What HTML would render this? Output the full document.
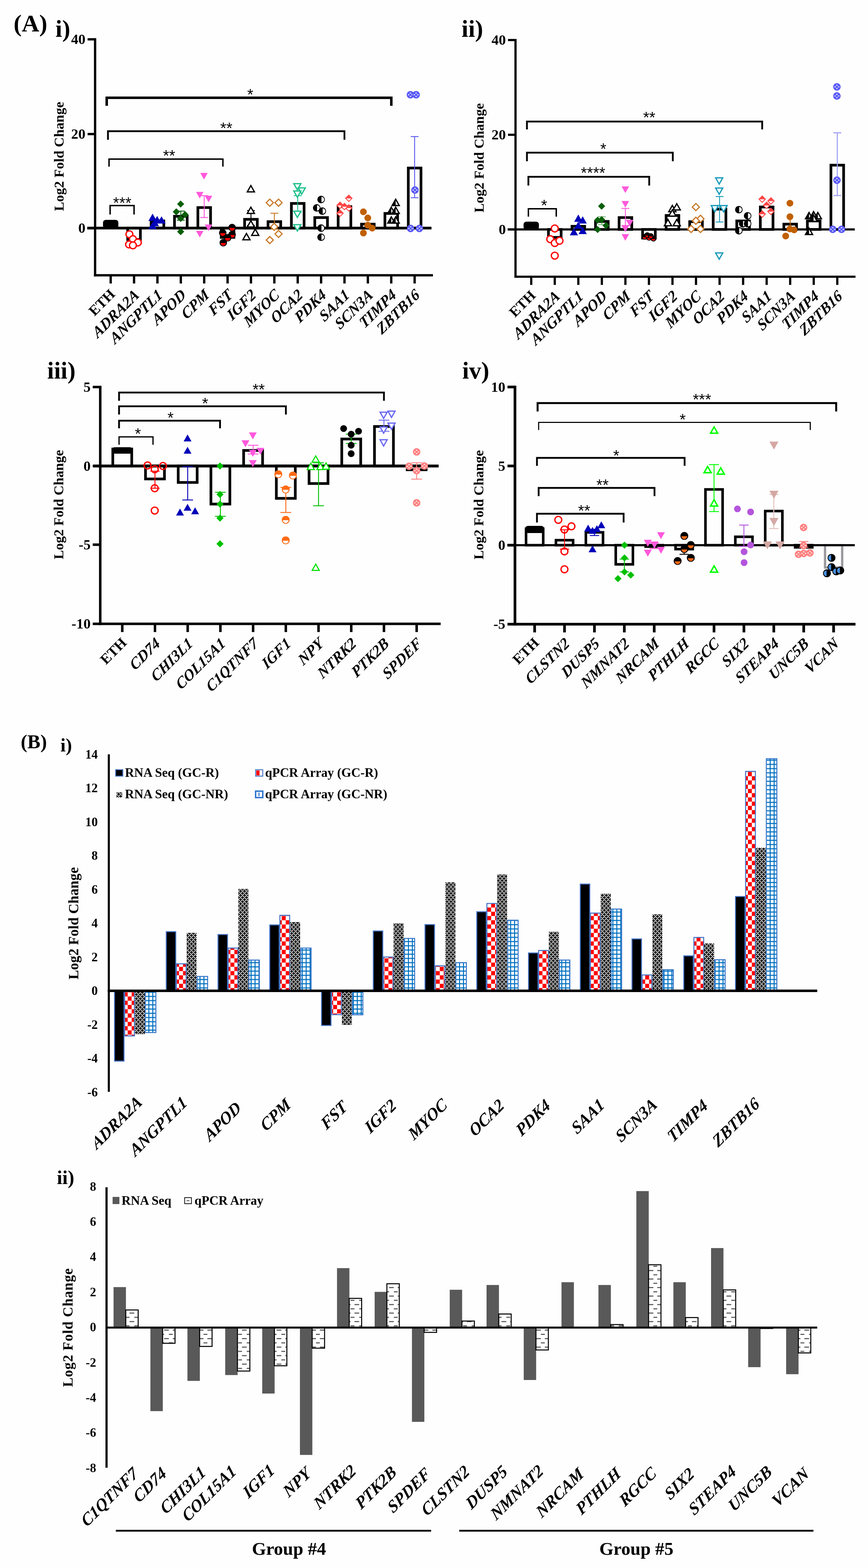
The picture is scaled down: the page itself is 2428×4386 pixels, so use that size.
<!DOCTYPE html>
<html lang="en">
<head>
<meta charset="utf-8">
<title>Figure: Log2 Fold Change validation (qPCR array vs RNA Seq)</title>
<style>
html,body{margin:0;padding:0;background:#fefefe;}
body{width:2428px;height:4386px;overflow:hidden;}
svg{display:block;}
text{font-family:"Liberation Serif","Times New Roman",serif;font-weight:bold;}
text.bi{font-style:italic;}
text.ar{font-family:"Liberation Sans",Arial,sans-serif;font-weight:normal;}
</style>
</head>
<body>
<svg width="2428" height="4386" viewBox="0 0 2428 4386" role="img" aria-label="Validation of RNA-Seq data by qPCR array: Log2 Fold Change bar charts">
<defs>
<pattern id="pc" width="22.1" height="23.7" patternUnits="userSpaceOnUse" x="14.7" y="2.66"><rect width="22.1" height="23.7" fill="#fff"/><rect x="0" y="0" width="11" height="11.8" fill="#f00"/><rect x="11" y="11.8" width="11" height="11.8" fill="#f00"/></pattern>
<pattern id="pd" width="11" height="11.8" patternUnits="userSpaceOnUse" x="3.3" y="2771.5"><rect width="11" height="11.8" fill="#000"/><rect x="0" y="0" width="2.8" height="3" fill="#fff"/><rect x="5.5" y="0" width="2.8" height="3" fill="#fff"/><rect x="2.8" y="3" width="2.8" height="3" fill="#fff"/><rect x="0" y="5.9" width="2.8" height="3" fill="#fff"/><rect x="5.5" y="5.9" width="2.8" height="3" fill="#fff"/><rect x="8.3" y="8.9" width="2.8" height="3" fill="#fff"/></pattern>
<pattern id="pg" width="11" height="11.8" patternUnits="userSpaceOnUse" x="8" y="0.9"><rect width="11" height="11.8" fill="#fff"/><rect x="0" y="0" width="11" height="2.9" fill="#0070c0"/><rect x="0" y="0" width="2.8" height="11.8" fill="#0070c0"/></pattern>
<pattern id="ph" width="24.2" height="23.8" patternUnits="userSpaceOnUse" x="-0.7" y="6.3"><rect width="24.2" height="23.8" fill="#fff"/><rect x="0" y="0" width="13.3" height="2.9" fill="#555"/><rect x="13.3" y="11.9" width="10.9" height="2.9" fill="#555"/></pattern>
<clipPath id="cl"><rect x="266" y="3000" width="2200" height="300"/></clipPath>
</defs>
<rect width="2428" height="4386" fill="#fefefe"/>
<text class="b" x="38" y="88" font-size="68">(A)</text>
<text class="b" x="155" y="103" font-size="68">i)</text>
<text class="b" transform="translate(177.5 437.5) rotate(-90)" font-size="38.8" text-anchor="middle">Log2 Fold Change</text>
<line x1="266" y1="106.8" x2="266" y2="773.2" stroke="#000" stroke-width="6.5"/>
<line x1="262.8" y1="770" x2="1211" y2="770" stroke="#000" stroke-width="6.5"/>
<line x1="244" y1="638" x2="1207" y2="638" stroke="#000" stroke-width="7.5"/>
<line x1="245" y1="110" x2="266" y2="110" stroke="#000" stroke-width="6.5"/>
<text class="b" x="239" y="123.4" font-size="40" text-anchor="end">40</text>
<line x1="245" y1="375" x2="266" y2="375" stroke="#000" stroke-width="6.5"/>
<text class="b" x="239" y="388.4" font-size="40" text-anchor="end">20</text>
<line x1="245" y1="638" x2="266" y2="638" stroke="#000" stroke-width="6.5"/>
<text class="b" x="239" y="651.4" font-size="40" text-anchor="end">0</text>
<line x1="309.6" y1="770" x2="309.6" y2="793" stroke="#000" stroke-width="6.5"/>
<line x1="375" y1="770" x2="375" y2="793" stroke="#000" stroke-width="6.5"/>
<line x1="440.4" y1="770" x2="440.4" y2="793" stroke="#000" stroke-width="6.5"/>
<line x1="505.8" y1="770" x2="505.8" y2="793" stroke="#000" stroke-width="6.5"/>
<line x1="571.2" y1="770" x2="571.2" y2="793" stroke="#000" stroke-width="6.5"/>
<line x1="636.6" y1="770" x2="636.6" y2="793" stroke="#000" stroke-width="6.5"/>
<line x1="702" y1="770" x2="702" y2="793" stroke="#000" stroke-width="6.5"/>
<line x1="767.4" y1="770" x2="767.4" y2="793" stroke="#000" stroke-width="6.5"/>
<line x1="832.8" y1="770" x2="832.8" y2="793" stroke="#000" stroke-width="6.5"/>
<line x1="898.2" y1="770" x2="898.2" y2="793" stroke="#000" stroke-width="6.5"/>
<line x1="963.6" y1="770" x2="963.6" y2="793" stroke="#000" stroke-width="6.5"/>
<line x1="1029" y1="770" x2="1029" y2="793" stroke="#000" stroke-width="6.5"/>
<line x1="1094.4" y1="770" x2="1094.4" y2="793" stroke="#000" stroke-width="6.5"/>
<line x1="1159.8" y1="770" x2="1159.8" y2="793" stroke="#000" stroke-width="6.5"/>
<text class="b" transform="translate(324.2 825.5) rotate(-45)" font-size="40.2" text-anchor="end">ETH</text>
<text class="bi" transform="translate(391.4 829) rotate(-45) skewX(-8)" font-size="43" text-anchor="end">ADRA2A</text>
<text class="bi" transform="translate(456.8 829) rotate(-45) skewX(-8)" font-size="43" text-anchor="end">ANGPTL1</text>
<text class="bi" transform="translate(522.2 829) rotate(-45) skewX(-8)" font-size="43" text-anchor="end">APOD</text>
<text class="bi" transform="translate(587.6 829) rotate(-45) skewX(-8)" font-size="43" text-anchor="end">CPM</text>
<text class="bi" transform="translate(653 829) rotate(-45) skewX(-8)" font-size="43" text-anchor="end">FST</text>
<text class="bi" transform="translate(718.4 829) rotate(-45) skewX(-8)" font-size="43" text-anchor="end">IGF2</text>
<text class="bi" transform="translate(783.8 829) rotate(-45) skewX(-8)" font-size="43" text-anchor="end">MYOC</text>
<text class="bi" transform="translate(849.2 829) rotate(-45) skewX(-8)" font-size="43" text-anchor="end">OCA2</text>
<text class="bi" transform="translate(914.6 829) rotate(-45) skewX(-8)" font-size="43" text-anchor="end">PDK4</text>
<text class="bi" transform="translate(980 829) rotate(-45) skewX(-8)" font-size="43" text-anchor="end">SAA1</text>
<text class="bi" transform="translate(1045.4 829) rotate(-45) skewX(-8)" font-size="43" text-anchor="end">SCN3A</text>
<text class="bi" transform="translate(1110.8 829) rotate(-45) skewX(-8)" font-size="43" text-anchor="end">TIMP4</text>
<text class="bi" transform="translate(1176.2 829) rotate(-45) skewX(-8)" font-size="43" text-anchor="end">ZBTB16</text>
<rect x="357.2" y="638" width="35.5" height="32" fill="none" stroke="#000" stroke-width="7.5"/>
<rect x="422.7" y="618" width="35.5" height="20" fill="none" stroke="#000" stroke-width="7.5"/>
<rect x="488.1" y="605" width="35.5" height="33" fill="none" stroke="#000" stroke-width="7.5"/>
<rect x="553.5" y="580.6" width="35.5" height="57.4" fill="none" stroke="#000" stroke-width="7.5"/>
<rect x="618.9" y="638" width="35.5" height="26" fill="none" stroke="#000" stroke-width="7.5"/>
<rect x="684.2" y="613.5" width="35.5" height="24.5" fill="none" stroke="#000" stroke-width="7.5"/>
<rect x="749.7" y="620" width="35.5" height="18" fill="none" stroke="#000" stroke-width="7.5"/>
<rect x="815.1" y="569" width="35.5" height="69" fill="none" stroke="#000" stroke-width="7.5"/>
<rect x="880.5" y="608.6" width="35.5" height="29.4" fill="none" stroke="#000" stroke-width="7.5"/>
<rect x="945.9" y="578" width="35.5" height="60" fill="none" stroke="#000" stroke-width="7.5"/>
<rect x="1011.2" y="627" width="35.5" height="11" fill="none" stroke="#000" stroke-width="7.5"/>
<rect x="1076.7" y="597" width="35.5" height="41" fill="none" stroke="#000" stroke-width="7.5"/>
<rect x="1142.1" y="470" width="35.5" height="168" fill="none" stroke="#000" stroke-width="7.5"/>
<rect x="288.1" y="615" width="43" height="25" rx="8" fill="#000"/>
<path d="M560.2 547.3 H582.2 M571.2 547.3 V608.6 M560.2 608.6 H582.2" stroke="#ff58dc" stroke-width="2.5" fill="none"/>
<path d="M691 589 H713 M702 589 V630.7 M691 630.7 H713" stroke="#000" stroke-width="2.5" fill="none"/>
<path d="M756.4 596.4 H778.4 M767.4 596.4 V640.5 M756.4 640.5 H778.4" stroke="#c87a28" stroke-width="2.5" fill="none"/>
<path d="M821.8 547.3 H843.8 M832.8 547.3 V593.9 M821.8 593.9 H843.8" stroke="#1ec08c" stroke-width="2.5" fill="none"/>
<path d="M494.8 590.5 H516.8 M505.8 590.5 V616 M494.8 616 H516.8" stroke="#0a5f0a" stroke-width="2.5" fill="none"/>
<path d="M1148.8 382 H1170.8 M1159.8 382 V553 M1148.8 553 H1170.8" stroke="#5a5af5" stroke-width="2.5" fill="none"/>
<circle cx="362" cy="655.3" r="9.6" fill="#fff" stroke="#ff0000" stroke-width="3.6"/>
<circle cx="371.8" cy="669" r="9.6" fill="#fff" stroke="#ff0000" stroke-width="3.6"/>
<circle cx="361" cy="683.7" r="9.6" fill="#fff" stroke="#ff0000" stroke-width="3.6"/>
<circle cx="385.6" cy="678.3" r="9.6" fill="#fff" stroke="#ff0000" stroke-width="3.6"/>
<circle cx="371.8" cy="686.2" r="9.6" fill="#fff" stroke="#ff0000" stroke-width="3.6"/>
<polygon points="415.2,618 438.3,618 426.8,597.6" fill="#0000b8"/>
<polygon points="428,624.4 451.1,624.4 439.6,604" fill="#0000b8"/>
<polygon points="440.3,625.3 463.4,625.3 451.8,605" fill="#0000b8"/>
<polygon points="421.6,632.7 444.7,632.7 433.2,612.4" fill="#0000b8"/>
<polygon points="415.2,641 438.3,641 426.8,620.7" fill="#0000b8"/>
<polygon points="495.3,570.8 505.3,560.8 515.3,570.8 505.3,580.8" fill="#0a5f0a"/>
<polygon points="483.1,592.4 493.1,582.4 503.1,592.4 493.1,602.4" fill="#0a5f0a"/>
<polygon points="507.6,600.3 517.6,590.3 527.6,600.3 517.6,610.3" fill="#0a5f0a"/>
<polygon points="495.3,611.1 505.3,601.1 515.3,611.1 505.3,621.1" fill="#0a5f0a"/>
<polygon points="495.3,647.9 505.3,637.9 515.3,647.9 505.3,657.9" fill="#0a5f0a"/>
<polygon points="560.1,483.8 581.1,483.8 570.6,502.3" fill="#ff58dc"/>
<polygon points="548.3,536.8 569.3,536.8 558.8,555.3" fill="#ff58dc"/>
<polygon points="572.9,547.6 593.9,547.6 583.4,566.1" fill="#ff58dc"/>
<polygon points="572.9,628.1 593.9,628.1 583.4,646.6" fill="#ff58dc"/>
<polygon points="548.3,645.8 569.3,645.8 558.8,664.3" fill="#ff58dc"/>
<circle cx="649.2" cy="636.6" r="10.5" fill="#000"/>
<path d="M641.7 637.6 A7.5 7.5 0 0 0 656.7 637.6 Z" fill="#ff0000"/>
<circle cx="623.1" cy="651.3" r="10.5" fill="#000"/>
<path d="M615.6 652.3 A7.5 7.5 0 0 0 630.6 652.3 Z" fill="#ff0000"/>
<circle cx="649.2" cy="656.2" r="10.5" fill="#000"/>
<path d="M641.7 657.2 A7.5 7.5 0 0 0 656.7 657.2 Z" fill="#ff0000"/>
<circle cx="636.9" cy="665.1" r="10.5" fill="#000"/>
<path d="M629.4 666.1 A7.5 7.5 0 0 0 644.4 666.1 Z" fill="#ff0000"/>
<circle cx="624.6" cy="678.8" r="10.5" fill="#000"/>
<path d="M617.1 679.8 A7.5 7.5 0 0 0 632.1 679.8 Z" fill="#ff0000"/>
<polygon points="691.7,536.7 711.7,536.7 701.7,519.1" fill="#fff" stroke="#000" stroke-width="3.5" stroke-linejoin="miter"/>
<polygon points="691.7,597.1 711.7,597.1 701.7,579.5" fill="#fff" stroke="#000" stroke-width="3.5" stroke-linejoin="miter"/>
<polygon points="691.7,634.9 711.7,634.9 701.7,617.3" fill="#fff" stroke="#000" stroke-width="3.5" stroke-linejoin="miter"/>
<polygon points="704,658.4 723.9,658.4 714,640.9" fill="#fff" stroke="#000" stroke-width="3.5" stroke-linejoin="miter"/>
<polygon points="679.4,670.7 699.4,670.7 689.4,653.1" fill="#fff" stroke="#000" stroke-width="3.5" stroke-linejoin="miter"/>
<polygon points="744.7,566.9 754.7,556.9 764.7,566.9 754.7,576.9" fill="#fff" stroke="#c87a28" stroke-width="3.2"/>
<polygon points="769.2,566.9 779.2,556.9 789.2,566.9 779.2,576.9" fill="#fff" stroke="#c87a28" stroke-width="3.2"/>
<polygon points="757,634.6 767,624.6 777,634.6 767,644.6" fill="#fff" stroke="#c87a28" stroke-width="3.2"/>
<polygon points="769.2,654.3 779.2,644.3 789.2,654.3 779.2,664.3" fill="#fff" stroke="#c87a28" stroke-width="3.2"/>
<polygon points="744.7,671.5 754.7,661.5 764.7,671.5 754.7,681.5" fill="#fff" stroke="#c87a28" stroke-width="3.2"/>
<polygon points="821.8,513.7 841.7,513.7 831.8,531.2" fill="#fff" stroke="#1ec08c" stroke-width="3.5" stroke-linejoin="miter"/>
<polygon points="834.1,525.4 854,525.4 844,543" fill="#fff" stroke="#1ec08c" stroke-width="3.5" stroke-linejoin="miter"/>
<polygon points="821.8,534.3 841.7,534.3 831.8,551.9" fill="#fff" stroke="#1ec08c" stroke-width="3.5" stroke-linejoin="miter"/>
<polygon points="821.8,590.7 841.7,590.7 831.8,608.3" fill="#fff" stroke="#1ec08c" stroke-width="3.5" stroke-linejoin="miter"/>
<polygon points="821.8,628.5 841.7,628.5 831.8,646.1" fill="#fff" stroke="#1ec08c" stroke-width="3.5" stroke-linejoin="miter"/>
<circle cx="898.2" cy="558.1" r="10.5" fill="#000"/>
<path d="M899.2 550.6 A7.5 7.5 0 0 1 899.2 565.6 Z" fill="#fff"/>
<circle cx="885.9" cy="581.6" r="10.5" fill="#000"/>
<path d="M886.9 574.1 A7.5 7.5 0 0 1 886.9 589.1 Z" fill="#fff"/>
<circle cx="901.6" cy="590.5" r="10.5" fill="#000"/>
<path d="M902.6 583 A7.5 7.5 0 0 1 902.6 598 Z" fill="#fff"/>
<circle cx="898.2" cy="638.1" r="10.5" fill="#000"/>
<path d="M899.2 630.6 A7.5 7.5 0 0 1 899.2 645.6 Z" fill="#fff"/>
<circle cx="898.2" cy="663.6" r="10.5" fill="#000"/>
<path d="M899.2 656.1 A7.5 7.5 0 0 1 899.2 671.1 Z" fill="#fff"/>
<polygon points="966.7,554.6 975.7,545.6 984.7,554.6 975.7,563.6" fill="#fff" stroke="#ff4646" stroke-width="2.4"/>
<polygon points="966.7,555.1 975.7,545.6 984.7,555.1" fill="#ff4646"/>
<polygon points="942.2,574.3 951.2,565.3 960.2,574.3 951.2,583.3" fill="#fff" stroke="#ff4646" stroke-width="2.4"/>
<polygon points="942.2,574.8 951.2,565.3 960.2,574.8" fill="#ff4646"/>
<polygon points="966.7,581.6 975.7,572.6 984.7,581.6 975.7,590.6" fill="#fff" stroke="#ff4646" stroke-width="2.4"/>
<polygon points="966.7,582.1 975.7,572.6 984.7,582.1" fill="#ff4646"/>
<polygon points="954.5,577.7 963.5,568.7 972.5,577.7 963.5,586.7" fill="#fff" stroke="#ff4646" stroke-width="2.4"/>
<polygon points="954.5,578.2 963.5,568.7 972.5,578.2" fill="#ff4646"/>
<polygon points="942.2,596.4 951.2,587.4 960.2,596.4 951.2,605.4" fill="#fff" stroke="#ff4646" stroke-width="2.4"/>
<polygon points="942.2,596.9 951.2,587.4 960.2,596.9" fill="#ff4646"/>
<circle cx="1016.5" cy="592.4" r="9.5" fill="#c06000"/>
<circle cx="1028.8" cy="609.6" r="9.5" fill="#c06000"/>
<circle cx="1028.8" cy="629.7" r="9.5" fill="#c06000"/>
<circle cx="1041" cy="638.1" r="9.5" fill="#c06000"/>
<circle cx="1016.5" cy="651.8" r="9.5" fill="#c06000"/>
<polygon points="1096.8,575 1116.8,575 1106.8,557.4" fill="#fff" stroke="#000" stroke-width="3.5" stroke-linejoin="miter"/>
<polygon points="1106.8,557.4 1106.8,574.9 1096.8,574.9" fill="#000"/>
<polygon points="1084.6,597.1 1104.5,597.1 1094.5,579.5" fill="#fff" stroke="#000" stroke-width="3.5" stroke-linejoin="miter"/>
<polygon points="1094.5,579.5 1094.5,597 1084.5,597" fill="#000"/>
<polygon points="1096.8,597.1 1116.8,597.1 1106.8,579.5" fill="#fff" stroke="#000" stroke-width="3.5" stroke-linejoin="miter"/>
<polygon points="1106.8,579.5 1106.8,597 1096.8,597" fill="#000"/>
<polygon points="1084.6,624.1 1104.5,624.1 1094.5,606.5" fill="#fff" stroke="#000" stroke-width="3.5" stroke-linejoin="miter"/>
<polygon points="1094.5,606.5 1094.5,624 1084.5,624" fill="#000"/>
<polygon points="1096.8,624.1 1116.8,624.1 1106.8,606.5" fill="#fff" stroke="#000" stroke-width="3.5" stroke-linejoin="miter"/>
<polygon points="1106.8,606.5 1106.8,624 1096.8,624" fill="#000"/>
<circle cx="1148" cy="265" r="10.5" fill="#5a5af5"/>
<rect x="1146" y="259.1" width="4" height="2.6" fill="#fff" fill-opacity="0.9"/>
<rect x="1141" y="263.7" width="4" height="2.6" fill="#fff" fill-opacity="0.9"/>
<rect x="1151" y="263.7" width="4" height="2.6" fill="#fff" fill-opacity="0.9"/>
<rect x="1146" y="268.3" width="4" height="2.6" fill="#fff" fill-opacity="0.9"/>
<circle cx="1164" cy="265" r="10.5" fill="#5a5af5"/>
<rect x="1162" y="259.1" width="4" height="2.6" fill="#fff" fill-opacity="0.9"/>
<rect x="1157" y="263.7" width="4" height="2.6" fill="#fff" fill-opacity="0.9"/>
<rect x="1167" y="263.7" width="4" height="2.6" fill="#fff" fill-opacity="0.9"/>
<rect x="1162" y="268.3" width="4" height="2.6" fill="#fff" fill-opacity="0.9"/>
<circle cx="1160.8" cy="531.6" r="10.5" fill="#5a5af5"/>
<rect x="1158.8" y="525.7" width="4" height="2.6" fill="#fff" fill-opacity="0.9"/>
<rect x="1153.8" y="530.3" width="4" height="2.6" fill="#fff" fill-opacity="0.9"/>
<rect x="1163.8" y="530.3" width="4" height="2.6" fill="#fff" fill-opacity="0.9"/>
<rect x="1158.8" y="534.9" width="4" height="2.6" fill="#fff" fill-opacity="0.9"/>
<circle cx="1148.5" cy="639.1" r="10.5" fill="#5a5af5"/>
<rect x="1146.5" y="633.2" width="4" height="2.6" fill="#fff" fill-opacity="0.9"/>
<rect x="1141.5" y="637.8" width="4" height="2.6" fill="#fff" fill-opacity="0.9"/>
<rect x="1151.5" y="637.8" width="4" height="2.6" fill="#fff" fill-opacity="0.9"/>
<rect x="1146.5" y="642.4" width="4" height="2.6" fill="#fff" fill-opacity="0.9"/>
<circle cx="1173.1" cy="639.1" r="10.5" fill="#5a5af5"/>
<rect x="1171.1" y="633.2" width="4" height="2.6" fill="#fff" fill-opacity="0.9"/>
<rect x="1166.1" y="637.8" width="4" height="2.6" fill="#fff" fill-opacity="0.9"/>
<rect x="1176.1" y="637.8" width="4" height="2.6" fill="#fff" fill-opacity="0.9"/>
<rect x="1171.1" y="642.4" width="4" height="2.6" fill="#fff" fill-opacity="0.9"/>
<path d="M298.5 296 V273.5 H1094.6 V296" fill="none" stroke="#000" stroke-width="7"/>
<text class="ar" x="700" y="280.3" font-size="44" text-anchor="middle">*</text>
<path d="M302 391 V367 H963.5 V391" fill="none" stroke="#000" stroke-width="5"/>
<text class="ar" x="633" y="374.3" font-size="44" text-anchor="middle">**</text>
<path d="M305 466 V445 H623.5 V466" fill="none" stroke="#000" stroke-width="4"/>
<text class="ar" x="473" y="451.3" font-size="44" text-anchor="middle">**</text>
<path d="M308 600 V575 H375 V600" fill="none" stroke="#000" stroke-width="4"/>
<text class="ar" x="342" y="583.3" font-size="44" text-anchor="middle">***</text>
<text class="b" x="1291" y="103" font-size="68">ii)</text>
<text class="b" transform="translate(1352.5 441.5) rotate(-90)" font-size="38.8" text-anchor="middle">Log2 Fold Change</text>
<line x1="1442" y1="108.9" x2="1442" y2="777.1" stroke="#000" stroke-width="6.2"/>
<line x1="1438.9" y1="774" x2="2393" y2="774" stroke="#000" stroke-width="6.2"/>
<line x1="1420" y1="641.8" x2="2391" y2="641.8" stroke="#000" stroke-width="6"/>
<line x1="1421" y1="112" x2="1442" y2="112" stroke="#000" stroke-width="6.2"/>
<text class="b" x="1415" y="125.4" font-size="40" text-anchor="end">40</text>
<line x1="1421" y1="377" x2="1442" y2="377" stroke="#000" stroke-width="6.2"/>
<text class="b" x="1415" y="390.4" font-size="40" text-anchor="end">20</text>
<line x1="1421" y1="641.8" x2="1442" y2="641.8" stroke="#000" stroke-width="6.2"/>
<text class="b" x="1415" y="655.2" font-size="40" text-anchor="end">0</text>
<line x1="1486" y1="774" x2="1486" y2="797" stroke="#000" stroke-width="6.2"/>
<line x1="1551.8" y1="774" x2="1551.8" y2="797" stroke="#000" stroke-width="6.2"/>
<line x1="1617.7" y1="774" x2="1617.7" y2="797" stroke="#000" stroke-width="6.2"/>
<line x1="1683.5" y1="774" x2="1683.5" y2="797" stroke="#000" stroke-width="6.2"/>
<line x1="1749.4" y1="774" x2="1749.4" y2="797" stroke="#000" stroke-width="6.2"/>
<line x1="1815.2" y1="774" x2="1815.2" y2="797" stroke="#000" stroke-width="6.2"/>
<line x1="1881.1" y1="774" x2="1881.1" y2="797" stroke="#000" stroke-width="6.2"/>
<line x1="1946.9" y1="774" x2="1946.9" y2="797" stroke="#000" stroke-width="6.2"/>
<line x1="2012.8" y1="774" x2="2012.8" y2="797" stroke="#000" stroke-width="6.2"/>
<line x1="2078.7" y1="774" x2="2078.7" y2="797" stroke="#000" stroke-width="6.2"/>
<line x1="2144.5" y1="774" x2="2144.5" y2="797" stroke="#000" stroke-width="6.2"/>
<line x1="2210.3" y1="774" x2="2210.3" y2="797" stroke="#000" stroke-width="6.2"/>
<line x1="2276.2" y1="774" x2="2276.2" y2="797" stroke="#000" stroke-width="6.2"/>
<line x1="2342.1" y1="774" x2="2342.1" y2="797" stroke="#000" stroke-width="6.2"/>
<text class="b" transform="translate(1500.6 829) rotate(-45)" font-size="40.2" text-anchor="end">ETH</text>
<text class="bi" transform="translate(1568.2 832.5) rotate(-45) skewX(-8)" font-size="43" text-anchor="end">ADRA2A</text>
<text class="bi" transform="translate(1634.1 832.5) rotate(-45) skewX(-8)" font-size="43" text-anchor="end">ANGPTL1</text>
<text class="bi" transform="translate(1700 832.5) rotate(-45) skewX(-8)" font-size="43" text-anchor="end">APOD</text>
<text class="bi" transform="translate(1765.8 832.5) rotate(-45) skewX(-8)" font-size="43" text-anchor="end">CPM</text>
<text class="bi" transform="translate(1831.7 832.5) rotate(-45) skewX(-8)" font-size="43" text-anchor="end">FST</text>
<text class="bi" transform="translate(1897.5 832.5) rotate(-45) skewX(-8)" font-size="43" text-anchor="end">IGF2</text>
<text class="bi" transform="translate(1963.3 832.5) rotate(-45) skewX(-8)" font-size="43" text-anchor="end">MYOC</text>
<text class="bi" transform="translate(2029.2 832.5) rotate(-45) skewX(-8)" font-size="43" text-anchor="end">OCA2</text>
<text class="bi" transform="translate(2095.1 832.5) rotate(-45) skewX(-8)" font-size="43" text-anchor="end">PDK4</text>
<text class="bi" transform="translate(2160.9 832.5) rotate(-45) skewX(-8)" font-size="43" text-anchor="end">SAA1</text>
<text class="bi" transform="translate(2226.8 832.5) rotate(-45) skewX(-8)" font-size="43" text-anchor="end">SCN3A</text>
<text class="bi" transform="translate(2292.6 832.5) rotate(-45) skewX(-8)" font-size="43" text-anchor="end">TIMP4</text>
<text class="bi" transform="translate(2358.5 832.5) rotate(-45) skewX(-8)" font-size="43" text-anchor="end">ZBTB16</text>
<rect x="1534.1" y="641.8" width="35.5" height="22.2" fill="none" stroke="#000" stroke-width="7.5"/>
<rect x="1600" y="633" width="35.5" height="8.8" fill="none" stroke="#000" stroke-width="7.5"/>
<rect x="1665.8" y="619.4" width="35.5" height="22.4" fill="none" stroke="#000" stroke-width="7.5"/>
<rect x="1731.7" y="608.6" width="35.5" height="33.2" fill="none" stroke="#000" stroke-width="7.5"/>
<rect x="1797.5" y="641.8" width="35.5" height="24.2" fill="none" stroke="#000" stroke-width="7.5"/>
<rect x="1863.3" y="602.7" width="35.5" height="39.1" fill="none" stroke="#000" stroke-width="7.5"/>
<rect x="1929.2" y="620" width="35.5" height="21.8" fill="none" stroke="#000" stroke-width="7.5"/>
<rect x="1995" y="585" width="35.5" height="56.8" fill="none" stroke="#000" stroke-width="7.5"/>
<rect x="2060.9" y="618" width="35.5" height="23.8" fill="none" stroke="#000" stroke-width="7.5"/>
<rect x="2126.8" y="579" width="35.5" height="62.8" fill="none" stroke="#000" stroke-width="7.5"/>
<rect x="2192.6" y="627" width="35.5" height="14.8" fill="none" stroke="#000" stroke-width="7.5"/>
<rect x="2258.4" y="618" width="35.5" height="23.8" fill="none" stroke="#000" stroke-width="7.5"/>
<rect x="2324.3" y="462" width="35.5" height="179.8" fill="none" stroke="#000" stroke-width="7.5"/>
<rect x="1464.5" y="620" width="43" height="23" rx="8" fill="#000"/>
<path d="M1672.5 606.2 H1694.5 M1683.5 606.2 V628.3 M1672.5 628.3 H1694.5" stroke="#7ab87a" stroke-width="2.5" fill="none"/>
<path d="M1738.4 583.1 H1760.4 M1749.4 583.1 V630.7 M1738.4 630.7 H1760.4" stroke="#ff58dc" stroke-width="2.5" fill="none"/>
<path d="M2001.8 549.7 H2023.8 M2012.8 549.7 V620.9 M2001.8 620.9 H2023.8" stroke="#1a9ab8" stroke-width="2.5" fill="none"/>
<path d="M2202.3 606.2 H2218.3 M2210.3 606.2 V640.5 M2202.3 640.5 H2218.3" stroke="#c06000" stroke-width="2.5" fill="none"/>
<path d="M2331.1 371.6 H2353.1 M2342.1 371.6 V547 M2331.1 547 H2353.1" stroke="#a0a0f8" stroke-width="3" fill="none"/>
<circle cx="1551.8" cy="639.1" r="9.6" fill="#fff" stroke="#ff0000" stroke-width="3.6"/>
<circle cx="1539.1" cy="669" r="9.6" fill="#fff" stroke="#ff0000" stroke-width="3.6"/>
<circle cx="1551.8" cy="679.8" r="9.6" fill="#fff" stroke="#ff0000" stroke-width="3.6"/>
<circle cx="1565.1" cy="673.4" r="9.6" fill="#fff" stroke="#ff0000" stroke-width="3.6"/>
<circle cx="1551.8" cy="715.1" r="9.6" fill="#fff" stroke="#ff0000" stroke-width="3.6"/>
<polygon points="1606.1,620.4 1629.2,620.4 1617.6,600.1" fill="#0000b8"/>
<polygon points="1618.3,625.3 1641.4,625.3 1629.9,605" fill="#0000b8"/>
<polygon points="1606.1,640.1 1629.2,640.1 1617.6,619.7" fill="#0000b8"/>
<polygon points="1593.8,658.2 1616.9,658.2 1605.3,637.9" fill="#0000b8"/>
<polygon points="1618.3,654.8 1641.4,654.8 1629.9,634.4" fill="#0000b8"/>
<polygon points="1672.9,576.7 1682.9,566.7 1692.9,576.7 1682.9,586.7" fill="#0a5f0a"/>
<polygon points="1661.6,616 1671.6,606 1681.6,616 1671.6,626" fill="#0a5f0a"/>
<polygon points="1672.9,614.5 1682.9,604.5 1692.9,614.5 1682.9,624.5" fill="#0a5f0a"/>
<polygon points="1685.2,630.7 1695.2,620.7 1705.2,630.7 1695.2,640.7" fill="#0a5f0a"/>
<polygon points="1661.6,642 1671.6,632 1681.6,642 1671.6,652" fill="#0a5f0a"/>
<polygon points="1738.7,521.6 1759.7,521.6 1749.2,540.1" fill="#ff58dc"/>
<polygon points="1738.7,562.3 1759.7,562.3 1749.2,580.8" fill="#ff58dc"/>
<polygon points="1750.9,614.9 1771.9,614.9 1761.4,633.4" fill="#ff58dc"/>
<polygon points="1738.7,630.6 1759.7,630.6 1749.2,649.1" fill="#ff58dc"/>
<polygon points="1738.7,655.1 1759.7,655.1 1749.2,673.6" fill="#ff58dc"/>
<circle cx="1803.2" cy="662.6" r="8" fill="#000"/>
<path d="M1798.2 663.6 A5 5 0 0 0 1808.2 663.6 Z" fill="#ff0000"/>
<circle cx="1815.4" cy="665.1" r="8" fill="#000"/>
<path d="M1810.4 666.1 A5 5 0 0 0 1820.4 666.1 Z" fill="#ff0000"/>
<circle cx="1827.7" cy="667.5" r="8" fill="#000"/>
<path d="M1822.7 668.5 A5 5 0 0 0 1832.7 668.5 Z" fill="#ff0000"/>
<circle cx="1810.5" cy="657.7" r="8" fill="#000"/>
<path d="M1805.5 658.7 A5 5 0 0 0 1815.5 658.7 Z" fill="#ff0000"/>
<circle cx="1820.3" cy="660.2" r="8" fill="#000"/>
<path d="M1815.3 661.2 A5 5 0 0 0 1825.3 661.2 Z" fill="#ff0000"/>
<polygon points="1870.7,592.2 1890.7,592.2 1880.7,574.6" fill="#fff" stroke="#000" stroke-width="3.5" stroke-linejoin="miter"/>
<polygon points="1883,587.2 1903,587.2 1893,569.7" fill="#fff" stroke="#000" stroke-width="3.5" stroke-linejoin="miter"/>
<polygon points="1870.7,604.4 1890.7,604.4 1880.7,586.9" fill="#fff" stroke="#000" stroke-width="3.5" stroke-linejoin="miter"/>
<polygon points="1858.5,631.4 1878.4,631.4 1868.4,613.9" fill="#fff" stroke="#000" stroke-width="3.5" stroke-linejoin="miter"/>
<polygon points="1883,631.4 1903,631.4 1893,613.9" fill="#fff" stroke="#000" stroke-width="3.5" stroke-linejoin="miter"/>
<polygon points="1936.5,579.2 1946.5,569.2 1956.5,579.2 1946.5,589.2" fill="#fff" stroke="#c87a28" stroke-width="3.2"/>
<polygon points="1949.3,612.1 1959.3,602.1 1969.3,612.1 1959.3,622.1" fill="#fff" stroke="#c87a28" stroke-width="3.2"/>
<polygon points="1936.5,617.5 1946.5,607.5 1956.5,617.5 1946.5,627.5" fill="#fff" stroke="#c87a28" stroke-width="3.2"/>
<polygon points="1923.2,640.5 1933.2,630.5 1943.2,640.5 1933.2,650.5" fill="#fff" stroke="#c87a28" stroke-width="3.2"/>
<polygon points="1949.3,640.5 1959.3,630.5 1969.3,640.5 1959.3,650.5" fill="#fff" stroke="#c87a28" stroke-width="3.2"/>
<polygon points="2001.8,497.5 2021.7,497.5 2011.7,515" fill="#fff" stroke="#1a9ab8" stroke-width="3.5" stroke-linejoin="miter"/>
<polygon points="2001.8,525.9 2021.7,525.9 2011.7,543.5" fill="#fff" stroke="#1a9ab8" stroke-width="3.5" stroke-linejoin="miter"/>
<polygon points="1989.5,575 2009.4,575 1999.5,592.6" fill="#fff" stroke="#1a9ab8" stroke-width="3.5" stroke-linejoin="miter"/>
<polygon points="2014,575 2034,575 2024,592.6" fill="#fff" stroke="#1a9ab8" stroke-width="3.5" stroke-linejoin="miter"/>
<polygon points="2001.8,707.6 2021.7,707.6 2011.7,725.1" fill="#fff" stroke="#1a9ab8" stroke-width="3.5" stroke-linejoin="miter"/>
<circle cx="2066.7" cy="586.5" r="10.5" fill="#000"/>
<path d="M2067.7 579 A7.5 7.5 0 0 1 2067.7 594 Z" fill="#fff"/>
<circle cx="2091.3" cy="603.7" r="10.5" fill="#000"/>
<path d="M2092.3 596.2 A7.5 7.5 0 0 1 2092.3 611.2 Z" fill="#fff"/>
<circle cx="2077.5" cy="625.8" r="10.5" fill="#000"/>
<path d="M2078.5 618.3 A7.5 7.5 0 0 1 2078.5 633.3 Z" fill="#fff"/>
<circle cx="2091.3" cy="625.8" r="10.5" fill="#000"/>
<path d="M2092.3 618.3 A7.5 7.5 0 0 1 2092.3 633.3 Z" fill="#fff"/>
<circle cx="2066.7" cy="645.4" r="10.5" fill="#000"/>
<path d="M2067.7 637.9 A7.5 7.5 0 0 1 2067.7 652.9 Z" fill="#fff"/>
<polygon points="2123,557.1 2132,548.1 2141,557.1 2132,566.1" fill="#fff" stroke="#ff4646" stroke-width="2.4"/>
<polygon points="2123,557.6 2132,548.1 2141,557.6" fill="#ff4646"/>
<polygon points="2147.5,562 2156.5,553 2165.5,562 2156.5,571" fill="#fff" stroke="#ff4646" stroke-width="2.4"/>
<polygon points="2147.5,562.5 2156.5,553 2165.5,562.5" fill="#ff4646"/>
<polygon points="2135.3,574.3 2144.3,565.3 2153.3,574.3 2144.3,583.3" fill="#fff" stroke="#ff4646" stroke-width="2.4"/>
<polygon points="2135.3,574.8 2144.3,565.3 2153.3,574.8" fill="#ff4646"/>
<polygon points="2147.5,591.4 2156.5,582.4 2165.5,591.4 2156.5,600.4" fill="#fff" stroke="#ff4646" stroke-width="2.4"/>
<polygon points="2147.5,591.9 2156.5,582.4 2165.5,591.9" fill="#ff4646"/>
<polygon points="2123,598.8 2132,589.8 2141,598.8 2132,607.8" fill="#fff" stroke="#ff4646" stroke-width="2.4"/>
<polygon points="2123,599.3 2132,589.8 2141,599.3" fill="#ff4646"/>
<circle cx="2209.6" cy="568.4" r="9.5" fill="#c06000"/>
<circle cx="2209.6" cy="606.2" r="9.5" fill="#c06000"/>
<circle cx="2209.6" cy="640.5" r="9.5" fill="#c06000"/>
<circle cx="2221.3" cy="643" r="9.5" fill="#c06000"/>
<circle cx="2197.8" cy="660.2" r="9.5" fill="#c06000"/>
<polygon points="2253.1,611.8 2273,611.8 2263.1,594.2" fill="#fff" stroke="#000" stroke-width="3.5" stroke-linejoin="miter"/>
<polygon points="2263.1,594.2 2263.1,611.7 2253.1,611.7" fill="#000"/>
<polygon points="2265.9,609.3 2285.8,609.3 2275.8,591.8" fill="#fff" stroke="#000" stroke-width="3.5" stroke-linejoin="miter"/>
<polygon points="2275.8,591.8 2275.8,609.3 2265.8,609.3" fill="#000"/>
<polygon points="2277.6,611.8 2297.6,611.8 2287.6,594.2" fill="#fff" stroke="#000" stroke-width="3.5" stroke-linejoin="miter"/>
<polygon points="2287.6,594.2 2287.6,611.7 2277.6,611.7" fill="#000"/>
<polygon points="2265.9,619.2 2285.8,619.2 2275.8,601.6" fill="#fff" stroke="#000" stroke-width="3.5" stroke-linejoin="miter"/>
<polygon points="2275.8,601.6 2275.8,619.1 2265.8,619.1" fill="#000"/>
<polygon points="2253.1,656 2273,656 2263.1,638.4" fill="#fff" stroke="#000" stroke-width="3.5" stroke-linejoin="miter"/>
<polygon points="2263.1,638.4 2263.1,655.9 2253.1,655.9" fill="#000"/>
<circle cx="2341" cy="243" r="10.5" fill="#5a5af5"/>
<rect x="2339" y="237.1" width="4" height="2.6" fill="#fff" fill-opacity="0.9"/>
<rect x="2334" y="241.7" width="4" height="2.6" fill="#fff" fill-opacity="0.9"/>
<rect x="2344" y="241.7" width="4" height="2.6" fill="#fff" fill-opacity="0.9"/>
<rect x="2339" y="246.3" width="4" height="2.6" fill="#fff" fill-opacity="0.9"/>
<circle cx="2341" cy="268.5" r="10.5" fill="#5a5af5"/>
<rect x="2339" y="262.6" width="4" height="2.6" fill="#fff" fill-opacity="0.9"/>
<rect x="2334" y="267.2" width="4" height="2.6" fill="#fff" fill-opacity="0.9"/>
<rect x="2344" y="267.2" width="4" height="2.6" fill="#fff" fill-opacity="0.9"/>
<rect x="2339" y="271.8" width="4" height="2.6" fill="#fff" fill-opacity="0.9"/>
<circle cx="2341.1" cy="504.1" r="10.5" fill="#5a5af5"/>
<rect x="2339.1" y="498.2" width="4" height="2.6" fill="#fff" fill-opacity="0.9"/>
<rect x="2334.1" y="502.8" width="4" height="2.6" fill="#fff" fill-opacity="0.9"/>
<rect x="2344.1" y="502.8" width="4" height="2.6" fill="#fff" fill-opacity="0.9"/>
<rect x="2339.1" y="507.4" width="4" height="2.6" fill="#fff" fill-opacity="0.9"/>
<circle cx="2329.3" cy="641.5" r="10.5" fill="#5a5af5"/>
<rect x="2327.3" y="635.6" width="4" height="2.6" fill="#fff" fill-opacity="0.9"/>
<rect x="2322.3" y="640.2" width="4" height="2.6" fill="#fff" fill-opacity="0.9"/>
<rect x="2332.3" y="640.2" width="4" height="2.6" fill="#fff" fill-opacity="0.9"/>
<rect x="2327.3" y="644.8" width="4" height="2.6" fill="#fff" fill-opacity="0.9"/>
<circle cx="2353.9" cy="641.5" r="10.5" fill="#5a5af5"/>
<rect x="2351.9" y="635.6" width="4" height="2.6" fill="#fff" fill-opacity="0.9"/>
<rect x="2346.9" y="640.2" width="4" height="2.6" fill="#fff" fill-opacity="0.9"/>
<rect x="2356.9" y="640.2" width="4" height="2.6" fill="#fff" fill-opacity="0.9"/>
<rect x="2351.9" y="644.8" width="4" height="2.6" fill="#fff" fill-opacity="0.9"/>
<path d="M1474 362 V340 H2132 V362" fill="none" stroke="#000" stroke-width="5"/>
<text class="ar" x="1816" y="344.3" font-size="44" text-anchor="middle">**</text>
<path d="M1474 451 V427 H1882 V451" fill="none" stroke="#000" stroke-width="5"/>
<text class="ar" x="1687.5" y="432.3" font-size="44" text-anchor="middle">*</text>
<path d="M1478 519 V494.5 H1816 V519" fill="none" stroke="#000" stroke-width="5"/>
<text class="ar" x="1659" y="499.3" font-size="44" text-anchor="middle">****</text>
<path d="M1478 606 V584 H1556 V606" fill="none" stroke="#000" stroke-width="4"/>
<text class="ar" x="1522" y="590.3" font-size="44" text-anchor="middle">*</text>
<text class="b" x="132" y="1059" font-size="68">iii)</text>
<text class="b" transform="translate(176.5 1411.5) rotate(-90)" font-size="38.8" text-anchor="middle">Log2 Fold Change</text>
<line x1="280.4" y1="1079.1" x2="280.4" y2="1748.5" stroke="#000" stroke-width="7"/>
<line x1="276.9" y1="1745" x2="1232.6" y2="1745" stroke="#000" stroke-width="7"/>
<line x1="261" y1="1303.4" x2="1227" y2="1303.4" stroke="#000" stroke-width="8"/>
<line x1="259.4" y1="1082.6" x2="280.4" y2="1082.6" stroke="#000" stroke-width="7"/>
<text class="b" x="253.4" y="1096" font-size="40" text-anchor="end">5</text>
<line x1="259.4" y1="1303.4" x2="280.4" y2="1303.4" stroke="#000" stroke-width="7"/>
<text class="b" x="253.4" y="1316.8" font-size="40" text-anchor="end">0</text>
<line x1="259.4" y1="1523.6" x2="280.4" y2="1523.6" stroke="#000" stroke-width="7"/>
<text class="b" x="253.4" y="1537" font-size="40" text-anchor="end">-5</text>
<line x1="259.4" y1="1745" x2="280.4" y2="1745" stroke="#000" stroke-width="7"/>
<text class="b" x="253.4" y="1758.4" font-size="40" text-anchor="end">-10</text>
<line x1="342" y1="1745" x2="342" y2="1768" stroke="#000" stroke-width="7"/>
<line x1="433.5" y1="1745" x2="433.5" y2="1768" stroke="#000" stroke-width="7"/>
<line x1="525" y1="1745" x2="525" y2="1768" stroke="#000" stroke-width="7"/>
<line x1="616.5" y1="1745" x2="616.5" y2="1768" stroke="#000" stroke-width="7"/>
<line x1="708" y1="1745" x2="708" y2="1768" stroke="#000" stroke-width="7"/>
<line x1="799.5" y1="1745" x2="799.5" y2="1768" stroke="#000" stroke-width="7"/>
<line x1="891" y1="1745" x2="891" y2="1768" stroke="#000" stroke-width="7"/>
<line x1="982.5" y1="1745" x2="982.5" y2="1768" stroke="#000" stroke-width="7"/>
<line x1="1074" y1="1745" x2="1074" y2="1768" stroke="#000" stroke-width="7"/>
<line x1="1165.5" y1="1745" x2="1165.5" y2="1768" stroke="#000" stroke-width="7"/>
<text class="b" transform="translate(356.6 1800.5) rotate(-45)" font-size="40.2" text-anchor="end">ETH</text>
<text class="bi" transform="translate(449.9 1804) rotate(-45) skewX(-8)" font-size="43" text-anchor="end">CD74</text>
<text class="bi" transform="translate(541.4 1804) rotate(-45) skewX(-8)" font-size="43" text-anchor="end">CHI3L1</text>
<text class="bi" transform="translate(632.9 1804) rotate(-45) skewX(-8)" font-size="43" text-anchor="end">COL15A1</text>
<text class="bi" transform="translate(724.4 1804) rotate(-45) skewX(-8)" font-size="43" text-anchor="end">C1QTNF7</text>
<text class="bi" transform="translate(815.9 1804) rotate(-45) skewX(-8)" font-size="43" text-anchor="end">IGF1</text>
<text class="bi" transform="translate(907.4 1804) rotate(-45) skewX(-8)" font-size="43" text-anchor="end">NPY</text>
<text class="bi" transform="translate(998.9 1804) rotate(-45) skewX(-8)" font-size="43" text-anchor="end">NTRK2</text>
<text class="bi" transform="translate(1090.4 1804) rotate(-45) skewX(-8)" font-size="43" text-anchor="end">PTK2B</text>
<text class="bi" transform="translate(1181.9 1804) rotate(-45) skewX(-8)" font-size="43" text-anchor="end">SPDEF</text>
<rect x="315.5" y="1256" width="53" height="47.4" fill="none" stroke="#000" stroke-width="7.5"/>
<rect x="407" y="1303.4" width="53" height="36.3" fill="none" stroke="#000" stroke-width="7.5"/>
<rect x="498.5" y="1303.4" width="53" height="46.1" fill="none" stroke="#000" stroke-width="7.5"/>
<rect x="590" y="1303.4" width="53" height="106.6" fill="none" stroke="#000" stroke-width="7.5"/>
<rect x="681.5" y="1260" width="53" height="43.4" fill="none" stroke="#000" stroke-width="7.5"/>
<rect x="773" y="1303.4" width="53" height="90.6" fill="none" stroke="#000" stroke-width="7.5"/>
<rect x="864.5" y="1303.4" width="53" height="49.1" fill="none" stroke="#000" stroke-width="7.5"/>
<rect x="956" y="1228" width="53" height="75.4" fill="none" stroke="#000" stroke-width="7.5"/>
<rect x="1047.5" y="1193" width="53" height="110.4" fill="none" stroke="#000" stroke-width="7.5"/>
<rect x="1139" y="1303.4" width="53" height="10.6" fill="none" stroke="#000" stroke-width="7.5"/>
<rect x="313" y="1251" width="58" height="18" rx="8" fill="#000"/>
<path d="M420.5 1318.1 H446.5 M433.5 1318.1 V1365.7 M420.5 1365.7 H446.5" stroke="#ff0000" stroke-width="2.5" fill="none"/>
<path d="M510 1305.3 H540 M525 1305.3 V1398.6 M510 1398.6 H540" stroke="#0000b8" stroke-width="2.5" fill="none"/>
<path d="M601.5 1377 H631.5 M616.5 1377 V1444.2 M601.5 1444.2 H631.5" stroke="#00c000" stroke-width="2.5" fill="none"/>
<path d="M693 1245.4 H723 M708 1245.4 V1270 M693 1270 H723" stroke="#ff58dc" stroke-width="2.5" fill="none"/>
<path d="M784.5 1363.3 H814.5 M799.5 1363.3 V1433.5 M784.5 1433.5 H814.5" stroke="#ff6a14" stroke-width="2.5" fill="none"/>
<path d="M876 1294.5 H906 M891 1294.5 V1414.8 M876 1414.8 H906" stroke="#00c000" stroke-width="2.5" fill="none"/>
<path d="M967.5 1214.5 H997.5 M982.5 1214.5 V1240.5 M967.5 1240.5 H997.5" stroke="#00c000" stroke-width="2.5" fill="none"/>
<path d="M1059 1175.2 H1089 M1074 1175.2 V1206.2 M1059 1206.2 H1089" stroke="#6a6af0" stroke-width="2.5" fill="none"/>
<path d="M1150.5 1294.5 H1180.5 M1165.5 1294.5 V1340.2 M1150.5 1340.2 H1180.5" stroke="#ff8080" stroke-width="2.5" fill="none"/>
<circle cx="412.7" cy="1301.9" r="9.6" fill="none" stroke="#ff0000" stroke-width="3.6"/>
<circle cx="455.9" cy="1303.4" r="9.6" fill="none" stroke="#ff0000" stroke-width="3.6"/>
<circle cx="432.8" cy="1312.7" r="9.6" fill="none" stroke="#ff0000" stroke-width="3.6"/>
<circle cx="432.8" cy="1365.7" r="9.6" fill="none" stroke="#ff0000" stroke-width="3.6"/>
<circle cx="432.8" cy="1428.1" r="9.6" fill="none" stroke="#ff0000" stroke-width="3.6"/>
<polygon points="513.6,1234.7 535.6,1234.7 524.6,1215.3" fill="#0000b8"/>
<polygon points="513.6,1269.1 535.6,1269.1 524.6,1249.7" fill="#0000b8"/>
<polygon points="513.6,1428.6 535.6,1428.6 524.6,1409.2" fill="#0000b8"/>
<polygon points="492.5,1441.9 514.5,1441.9 503.5,1422.5" fill="#0000b8"/>
<polygon points="534.7,1438.4 556.7,1438.4 545.7,1419" fill="#0000b8"/>
<polygon points="605.4,1303.4 615.4,1293.4 625.4,1303.4 615.4,1313.4" fill="#00c000"/>
<polygon points="605.4,1382.9 615.4,1372.9 625.4,1382.9 615.4,1392.9" fill="#00c000"/>
<polygon points="605.4,1409.9 615.4,1399.9 625.4,1409.9 615.4,1419.9" fill="#00c000"/>
<polygon points="605.4,1449.2 615.4,1439.2 625.4,1449.2 615.4,1459.2" fill="#00c000"/>
<polygon points="605.4,1521.2 615.4,1511.2 625.4,1521.2 615.4,1531.2" fill="#00c000"/>
<polygon points="696.2,1209.5 718.2,1209.5 707.2,1228.9" fill="#ff58dc"/>
<polygon points="675.6,1231.6 697.6,1231.6 686.6,1251" fill="#ff58dc"/>
<polygon points="717.3,1252.7 739.4,1252.7 728.3,1272.1" fill="#ff58dc"/>
<polygon points="696.2,1258.6 718.2,1258.6 707.2,1278" fill="#ff58dc"/>
<polygon points="696.2,1287.1 718.2,1287.1 707.2,1306.5" fill="#ff58dc"/>
<circle cx="778.5" cy="1326.4" r="11" fill="#ff6a14"/>
<path d="M770.5 1327.4 A8 8 0 0 0 786.5 1327.4 Z" fill="#fff"/>
<circle cx="819.3" cy="1329.9" r="11" fill="#ff6a14"/>
<path d="M811.3 1330.9 A8 8 0 0 0 827.3 1330.9 Z" fill="#fff"/>
<circle cx="799.2" cy="1369.1" r="11" fill="#ff6a14"/>
<path d="M791.2 1370.1 A8 8 0 0 0 807.2 1370.1 Z" fill="#fff"/>
<circle cx="799.2" cy="1454.1" r="11" fill="#ff6a14"/>
<path d="M791.2 1455.1 A8 8 0 0 0 807.2 1455.1 Z" fill="#fff"/>
<circle cx="799.2" cy="1511.4" r="11" fill="#ff6a14"/>
<path d="M791.2 1512.4 A8 8 0 0 0 807.2 1512.4 Z" fill="#fff"/>
<polygon points="873.1,1292.8 893.1,1292.8 883.1,1275.2" fill="#fff" stroke="#00e000" stroke-width="3" stroke-linejoin="miter"/>
<polygon points="859.4,1313.4 879.3,1313.4 869.4,1295.8" fill="#fff" stroke="#00e000" stroke-width="3" stroke-linejoin="miter"/>
<polygon points="886.4,1313.4 906.3,1313.4 896.4,1295.8" fill="#fff" stroke="#00e000" stroke-width="3" stroke-linejoin="miter"/>
<polygon points="902.1,1312.4 922,1312.4 912.1,1294.8" fill="#fff" stroke="#00e000" stroke-width="3" stroke-linejoin="miter"/>
<polygon points="873.1,1595.5 893.1,1595.5 883.1,1577.9" fill="#fff" stroke="#00e000" stroke-width="3" stroke-linejoin="miter"/>
<circle cx="961.2" cy="1198.8" r="9.5" fill="#000"/>
<circle cx="1002.9" cy="1206.2" r="9.5" fill="#000"/>
<circle cx="982.3" cy="1214.5" r="9.5" fill="#000"/>
<circle cx="982.3" cy="1245.4" r="9.5" fill="#000"/>
<circle cx="982.3" cy="1269" r="9.5" fill="#000"/>
<polygon points="1063.1,1152.9 1083,1152.9 1073.1,1170.5" fill="#fff" stroke="#6a6af0" stroke-width="3.5" stroke-linejoin="miter"/>
<polygon points="1085.2,1150 1105.1,1150 1095.2,1167.6" fill="#fff" stroke="#6a6af0" stroke-width="3.5" stroke-linejoin="miter"/>
<polygon points="1085.2,1183.4 1105.1,1183.4 1095.2,1200.9" fill="#fff" stroke="#6a6af0" stroke-width="3.5" stroke-linejoin="miter"/>
<polygon points="1063.1,1194.2 1083,1194.2 1073.1,1211.7" fill="#fff" stroke="#6a6af0" stroke-width="3.5" stroke-linejoin="miter"/>
<polygon points="1063.1,1230 1083,1230 1073.1,1247.6" fill="#fff" stroke="#6a6af0" stroke-width="3.5" stroke-linejoin="miter"/>
<circle cx="1165.4" cy="1264.1" r="10.5" fill="#ff8080"/>
<rect x="1163.4" y="1258.2" width="4" height="2.6" fill="#fff" fill-opacity="0.9"/>
<rect x="1158.4" y="1262.8" width="4" height="2.6" fill="#fff" fill-opacity="0.9"/>
<rect x="1168.4" y="1262.8" width="4" height="2.6" fill="#fff" fill-opacity="0.9"/>
<rect x="1163.4" y="1267.4" width="4" height="2.6" fill="#fff" fill-opacity="0.9"/>
<circle cx="1144.2" cy="1304.3" r="10.5" fill="#ff8080"/>
<rect x="1142.2" y="1298.4" width="4" height="2.6" fill="#fff" fill-opacity="0.9"/>
<rect x="1137.2" y="1303" width="4" height="2.6" fill="#fff" fill-opacity="0.9"/>
<rect x="1147.2" y="1303" width="4" height="2.6" fill="#fff" fill-opacity="0.9"/>
<rect x="1142.2" y="1307.6" width="4" height="2.6" fill="#fff" fill-opacity="0.9"/>
<circle cx="1165.4" cy="1316.6" r="10.5" fill="#ff8080"/>
<rect x="1163.4" y="1310.7" width="4" height="2.6" fill="#fff" fill-opacity="0.9"/>
<rect x="1158.4" y="1315.3" width="4" height="2.6" fill="#fff" fill-opacity="0.9"/>
<rect x="1168.4" y="1315.3" width="4" height="2.6" fill="#fff" fill-opacity="0.9"/>
<rect x="1163.4" y="1319.9" width="4" height="2.6" fill="#fff" fill-opacity="0.9"/>
<circle cx="1187" cy="1303.4" r="10.5" fill="#ff8080"/>
<rect x="1185" y="1297.5" width="4" height="2.6" fill="#fff" fill-opacity="0.9"/>
<rect x="1180" y="1302.1" width="4" height="2.6" fill="#fff" fill-opacity="0.9"/>
<rect x="1190" y="1302.1" width="4" height="2.6" fill="#fff" fill-opacity="0.9"/>
<rect x="1185" y="1306.7" width="4" height="2.6" fill="#fff" fill-opacity="0.9"/>
<circle cx="1165.4" cy="1406.5" r="10.5" fill="#ff8080"/>
<rect x="1163.4" y="1400.6" width="4" height="2.6" fill="#fff" fill-opacity="0.9"/>
<rect x="1158.4" y="1405.2" width="4" height="2.6" fill="#fff" fill-opacity="0.9"/>
<rect x="1168.4" y="1405.2" width="4" height="2.6" fill="#fff" fill-opacity="0.9"/>
<rect x="1163.4" y="1409.8" width="4" height="2.6" fill="#fff" fill-opacity="0.9"/>
<path d="M333 1121 V1098 H1074 V1121" fill="none" stroke="#000" stroke-width="5"/>
<text class="ar" x="723.5" y="1105.3" font-size="44" text-anchor="middle">**</text>
<path d="M333 1159.5 V1136.5 H799.7 V1159.5" fill="none" stroke="#000" stroke-width="5"/>
<text class="ar" x="573.7" y="1144.3" font-size="44" text-anchor="middle">*</text>
<path d="M333 1198 V1176.7 H615.5 V1198" fill="none" stroke="#000" stroke-width="5"/>
<text class="ar" x="477" y="1184.3" font-size="44" text-anchor="middle">*</text>
<path d="M333 1244 V1222 H428 V1244" fill="none" stroke="#000" stroke-width="3.5"/>
<text class="ar" x="385.7" y="1229.3" font-size="44" text-anchor="middle">*</text>
<text class="b" x="1293" y="1059" font-size="68">iv)</text>
<text class="b" transform="translate(1352 1412) rotate(-90)" font-size="38.8" text-anchor="middle">Log2 Fold Change</text>
<line x1="1440.5" y1="1078.8" x2="1440.5" y2="1749.8" stroke="#000" stroke-width="7.5"/>
<line x1="1436.8" y1="1746" x2="2393" y2="1746" stroke="#000" stroke-width="7.5"/>
<line x1="1419" y1="1525" x2="2391" y2="1525" stroke="#000" stroke-width="6.2"/>
<line x1="1419.5" y1="1082.5" x2="1440.5" y2="1082.5" stroke="#000" stroke-width="7.5"/>
<text class="b" x="1413.5" y="1095.9" font-size="40" text-anchor="end">10</text>
<line x1="1419.5" y1="1303.4" x2="1440.5" y2="1303.4" stroke="#000" stroke-width="7.5"/>
<text class="b" x="1413.5" y="1316.8" font-size="40" text-anchor="end">5</text>
<line x1="1419.5" y1="1525" x2="1440.5" y2="1525" stroke="#000" stroke-width="7.5"/>
<text class="b" x="1413.5" y="1538.4" font-size="40" text-anchor="end">0</text>
<line x1="1419.5" y1="1746" x2="1440.5" y2="1746" stroke="#000" stroke-width="7.5"/>
<text class="b" x="1413.5" y="1759.4" font-size="40" text-anchor="end">-5</text>
<line x1="1495.5" y1="1746" x2="1495.5" y2="1769" stroke="#000" stroke-width="7.5"/>
<line x1="1579.1" y1="1746" x2="1579.1" y2="1769" stroke="#000" stroke-width="7.5"/>
<line x1="1662.8" y1="1746" x2="1662.8" y2="1769" stroke="#000" stroke-width="7.5"/>
<line x1="1746.4" y1="1746" x2="1746.4" y2="1769" stroke="#000" stroke-width="7.5"/>
<line x1="1830" y1="1746" x2="1830" y2="1769" stroke="#000" stroke-width="7.5"/>
<line x1="1913.7" y1="1746" x2="1913.7" y2="1769" stroke="#000" stroke-width="7.5"/>
<line x1="1997.3" y1="1746" x2="1997.3" y2="1769" stroke="#000" stroke-width="7.5"/>
<line x1="2080.9" y1="1746" x2="2080.9" y2="1769" stroke="#000" stroke-width="7.5"/>
<line x1="2164.5" y1="1746" x2="2164.5" y2="1769" stroke="#000" stroke-width="7.5"/>
<line x1="2248.2" y1="1746" x2="2248.2" y2="1769" stroke="#000" stroke-width="7.5"/>
<line x1="2331.8" y1="1746" x2="2331.8" y2="1769" stroke="#000" stroke-width="7.5"/>
<text class="b" transform="translate(1510.1 1800.5) rotate(-45)" font-size="40.2" text-anchor="end">ETH</text>
<text class="bi" transform="translate(1595.5 1804) rotate(-45) skewX(-8)" font-size="43" text-anchor="end">CLSTN2</text>
<text class="bi" transform="translate(1679.2 1804) rotate(-45) skewX(-8)" font-size="43" text-anchor="end">DUSP5</text>
<text class="bi" transform="translate(1762.8 1804) rotate(-45) skewX(-8)" font-size="43" text-anchor="end">NMNAT2</text>
<text class="bi" transform="translate(1846.4 1804) rotate(-45) skewX(-8)" font-size="43" text-anchor="end">NRCAM</text>
<text class="bi" transform="translate(1930.1 1804) rotate(-45) skewX(-8)" font-size="43" text-anchor="end">PTHLH</text>
<text class="bi" transform="translate(2013.7 1804) rotate(-45) skewX(-8)" font-size="43" text-anchor="end">RGCC</text>
<text class="bi" transform="translate(2097.3 1804) rotate(-45) skewX(-8)" font-size="43" text-anchor="end">SIX2</text>
<text class="bi" transform="translate(2180.9 1804) rotate(-45) skewX(-8)" font-size="43" text-anchor="end">STEAP4</text>
<text class="bi" transform="translate(2264.6 1804) rotate(-45) skewX(-8)" font-size="43" text-anchor="end">UNC5B</text>
<text class="bi" transform="translate(2348.2 1804) rotate(-45) skewX(-8)" font-size="43" text-anchor="end">VCAN</text>
<rect x="1471.5" y="1479" width="48" height="46" fill="none" stroke="#000" stroke-width="7.2"/>
<rect x="1555.1" y="1511" width="48" height="14" fill="none" stroke="#000" stroke-width="7.2"/>
<rect x="1638.8" y="1489" width="48" height="36" fill="none" stroke="#000" stroke-width="7.2"/>
<rect x="1722.4" y="1525" width="48" height="53.6" fill="none" stroke="#000" stroke-width="7.2"/>
<rect x="1806" y="1525" width="48" height="4" fill="none" stroke="#000" stroke-width="7.2"/>
<rect x="1889.7" y="1525" width="48" height="11" fill="none" stroke="#000" stroke-width="7.2"/>
<rect x="1973.3" y="1369" width="48" height="156" fill="none" stroke="#000" stroke-width="7.2"/>
<rect x="2056.9" y="1501.5" width="48" height="23.5" fill="none" stroke="#000" stroke-width="7.2"/>
<rect x="2140.5" y="1429.5" width="48" height="95.5" fill="none" stroke="#000" stroke-width="7.2"/>
<rect x="2224.2" y="1525" width="48" height="6" fill="none" stroke="#000" stroke-width="7.2"/>
<rect x="2307.8" y="1525" width="48" height="62.5" fill="none" stroke="#9a9a9e" stroke-width="6.5"/>
<line x1="1419" y1="1525" x2="2391" y2="1525" stroke="#000" stroke-width="6.2"/>
<rect x="1469" y="1471" width="53" height="20" rx="8" fill="#000"/>
<path d="M1566.1 1481.9 H1592.1 M1579.1 1481.9 V1535.9 M1566.1 1535.9 H1592.1" stroke="#ff0000" stroke-width="2.5" fill="none"/>
<path d="M1649.8 1480.4 H1675.8 M1662.8 1480.4 V1498.1 M1649.8 1498.1 H1675.8" stroke="#0000b8" stroke-width="2.5" fill="none"/>
<path d="M1733.4 1563.9 H1759.4 M1746.4 1563.9 V1599.7 M1733.4 1599.7 H1759.4" stroke="#00c000" stroke-width="2.5" fill="none"/>
<path d="M1817 1518.7 H1843 M1830 1518.7 V1534.4 M1817 1534.4 H1843" stroke="#ff58dc" stroke-width="2.5" fill="none"/>
<path d="M1900.7 1523.6 H1926.7 M1913.7 1523.6 V1550.6 M1900.7 1550.6 H1926.7" stroke="#000" stroke-width="2.5" fill="none"/>
<path d="M1983.3 1299.4 H2011.3 M1997.3 1299.4 V1431 M1983.3 1431 H2011.3" stroke="#00ff00" stroke-width="2.5" fill="none"/>
<path d="M2067.9 1468.8 H2093.9 M2080.9 1468.8 V1528.5 M2067.9 1528.5 H2093.9" stroke="#b455dc" stroke-width="2.5" fill="none"/>
<path d="M2151.5 1382.9 H2177.5 M2164.5 1382.9 V1478.6 M2151.5 1478.6 H2177.5" stroke="#e4c8c4" stroke-width="3" fill="none"/>
<path d="M2235.2 1514.8 H2261.2 M2248.2 1514.8 V1531 M2235.2 1531 H2261.2" stroke="#ff8080" stroke-width="2.5" fill="none"/>
<circle cx="1561.7" cy="1454.1" r="9.6" fill="none" stroke="#ff0000" stroke-width="3.6"/>
<circle cx="1598.5" cy="1472.2" r="9.6" fill="none" stroke="#ff0000" stroke-width="3.6"/>
<circle cx="1578.9" cy="1481.1" r="9.6" fill="none" stroke="#ff0000" stroke-width="3.6"/>
<circle cx="1578.9" cy="1542.3" r="9.6" fill="none" stroke="#ff0000" stroke-width="3.6"/>
<circle cx="1578.9" cy="1592.4" r="9.6" fill="none" stroke="#ff0000" stroke-width="3.6"/>
<polygon points="1671,1477.6 1693,1477.6 1682,1458.2" fill="#0000b8"/>
<polygon points="1634.1,1486.9 1656.2,1486.9 1645.2,1467.5" fill="#0000b8"/>
<polygon points="1658.7,1488.4 1680.7,1488.4 1669.7,1469" fill="#0000b8"/>
<polygon points="1646.4,1493.3 1668.5,1493.3 1657.4,1473.9" fill="#0000b8"/>
<polygon points="1646.4,1544.8 1668.5,1544.8 1657.4,1525.4" fill="#0000b8"/>
<polygon points="1736.8,1525.1 1746.8,1515.1 1756.8,1525.1 1746.8,1535.1" fill="#00c000"/>
<polygon points="1736.8,1560.4 1746.8,1550.4 1756.8,1560.4 1746.8,1570.4" fill="#00c000"/>
<polygon points="1736.8,1599.7 1746.8,1589.7 1756.8,1599.7 1746.8,1609.7" fill="#00c000"/>
<polygon points="1754.4,1608.6 1764.4,1598.6 1774.4,1608.6 1764.4,1618.6" fill="#00c000"/>
<polygon points="1718.6,1618.4 1728.6,1608.4 1738.6,1618.4 1728.6,1628.4" fill="#00c000"/>
<polygon points="1837.9,1488.7 1859.9,1488.7 1848.9,1508.1" fill="#ff58dc"/>
<polygon points="1801,1509.8 1823.1,1509.8 1812.1,1529.2" fill="#ff58dc"/>
<polygon points="1819.7,1514.7 1841.7,1514.7 1830.7,1534.1" fill="#ff58dc"/>
<polygon points="1837.9,1529.4 1859.9,1529.4 1848.9,1548.9" fill="#ff58dc"/>
<polygon points="1801,1537.8 1823.1,1537.8 1812.1,1557.2" fill="#ff58dc"/>
<circle cx="1914.2" cy="1499.1" r="11" fill="#000"/>
<path d="M1906.2 1500.1 A8 8 0 0 0 1922.2 1500.1 Z" fill="#ff6a14"/>
<circle cx="1932.3" cy="1524.6" r="11" fill="#000"/>
<path d="M1924.3 1525.6 A8 8 0 0 0 1940.3 1525.6 Z" fill="#ff6a14"/>
<circle cx="1914.2" cy="1535.9" r="11" fill="#000"/>
<path d="M1906.2 1536.9 A8 8 0 0 0 1922.2 1536.9 Z" fill="#ff6a14"/>
<circle cx="1932.3" cy="1560.4" r="11" fill="#000"/>
<path d="M1924.3 1561.4 A8 8 0 0 0 1940.3 1561.4 Z" fill="#ff6a14"/>
<circle cx="1895.5" cy="1569.3" r="11" fill="#000"/>
<path d="M1887.5 1570.3 A8 8 0 0 0 1903.5 1570.3 Z" fill="#ff6a14"/>
<polygon points="1987.5,1211.8 2007.5,1211.8 1997.5,1194.2" fill="#fff" stroke="#00ff00" stroke-width="4" stroke-linejoin="miter"/>
<polygon points="1969.4,1322.2 1989.3,1322.2 1979.3,1304.7" fill="#fff" stroke="#00ff00" stroke-width="4" stroke-linejoin="miter"/>
<polygon points="2006.2,1326.2 2026.1,1326.2 2016.1,1308.6" fill="#fff" stroke="#00ff00" stroke-width="4" stroke-linejoin="miter"/>
<polygon points="1987.5,1415.5 2007.5,1415.5 1997.5,1397.9" fill="#fff" stroke="#00ff00" stroke-width="4" stroke-linejoin="miter"/>
<polygon points="1987.5,1600.4 2007.5,1600.4 1997.5,1582.9" fill="#fff" stroke="#00ff00" stroke-width="4" stroke-linejoin="miter"/>
<circle cx="2062.8" cy="1423.6" r="9.5" fill="#b455dc"/>
<circle cx="2099.6" cy="1432" r="9.5" fill="#b455dc"/>
<circle cx="2099.6" cy="1524.6" r="9.5" fill="#b455dc"/>
<circle cx="2081.4" cy="1543.3" r="9.5" fill="#b455dc"/>
<circle cx="2081.4" cy="1573.7" r="9.5" fill="#b455dc"/>
<polygon points="2152.3,1235.2 2177.5,1235.2 2164.9,1257.4" fill="#d4a8a4"/>
<polygon points="2152.3,1372.7 2177.5,1372.7 2164.9,1394.9" fill="#d4a8a4"/>
<polygon points="2152.3,1448.8 2177.5,1448.8 2164.9,1471" fill="#d4a8a4"/>
<polygon points="2134.1,1514.4 2159.3,1514.4 2146.7,1536.6" fill="#d4a8a4"/>
<polygon points="2169.5,1514.4 2194.7,1514.4 2182.1,1536.6" fill="#d4a8a4"/>
<circle cx="2247.8" cy="1475.5" r="10.5" fill="#ff8080"/>
<rect x="2245.8" y="1469.6" width="4" height="2.6" fill="#fff" fill-opacity="0.9"/>
<rect x="2240.8" y="1474.2" width="4" height="2.6" fill="#fff" fill-opacity="0.9"/>
<rect x="2250.8" y="1474.2" width="4" height="2.6" fill="#fff" fill-opacity="0.9"/>
<rect x="2245.8" y="1478.8" width="4" height="2.6" fill="#fff" fill-opacity="0.9"/>
<circle cx="2247.8" cy="1526.1" r="10.5" fill="#ff8080"/>
<rect x="2245.8" y="1520.2" width="4" height="2.6" fill="#fff" fill-opacity="0.9"/>
<rect x="2240.8" y="1524.8" width="4" height="2.6" fill="#fff" fill-opacity="0.9"/>
<rect x="2250.8" y="1524.8" width="4" height="2.6" fill="#fff" fill-opacity="0.9"/>
<rect x="2245.8" y="1529.4" width="4" height="2.6" fill="#fff" fill-opacity="0.9"/>
<circle cx="2233.6" cy="1550.6" r="10.5" fill="#ff8080"/>
<rect x="2231.6" y="1544.7" width="4" height="2.6" fill="#fff" fill-opacity="0.9"/>
<rect x="2226.6" y="1549.3" width="4" height="2.6" fill="#fff" fill-opacity="0.9"/>
<rect x="2236.6" y="1549.3" width="4" height="2.6" fill="#fff" fill-opacity="0.9"/>
<rect x="2231.6" y="1553.9" width="4" height="2.6" fill="#fff" fill-opacity="0.9"/>
<circle cx="2248.3" cy="1548.2" r="10.5" fill="#ff8080"/>
<rect x="2246.3" y="1542.3" width="4" height="2.6" fill="#fff" fill-opacity="0.9"/>
<rect x="2241.3" y="1546.9" width="4" height="2.6" fill="#fff" fill-opacity="0.9"/>
<rect x="2251.3" y="1546.9" width="4" height="2.6" fill="#fff" fill-opacity="0.9"/>
<rect x="2246.3" y="1551.5" width="4" height="2.6" fill="#fff" fill-opacity="0.9"/>
<circle cx="2265.5" cy="1546.7" r="10.5" fill="#ff8080"/>
<rect x="2263.5" y="1540.8" width="4" height="2.6" fill="#fff" fill-opacity="0.9"/>
<rect x="2258.5" y="1545.4" width="4" height="2.6" fill="#fff" fill-opacity="0.9"/>
<rect x="2268.5" y="1545.4" width="4" height="2.6" fill="#fff" fill-opacity="0.9"/>
<rect x="2263.5" y="1550" width="4" height="2.6" fill="#fff" fill-opacity="0.9"/>
<circle cx="2325.9" cy="1560.4" r="11" fill="#000"/>
<path d="M2324.9 1552.4 A8 8 0 0 0 2324.9 1568.4 Z" fill="#4a90e0"/>
<circle cx="2325.9" cy="1586.5" r="11" fill="#000"/>
<path d="M2324.9 1578.5 A8 8 0 0 0 2324.9 1594.5 Z" fill="#4a90e0"/>
<circle cx="2313.1" cy="1603.6" r="11" fill="#000"/>
<path d="M2312.1 1595.6 A8 8 0 0 0 2312.1 1611.6 Z" fill="#4a90e0"/>
<circle cx="2339.2" cy="1598.2" r="11" fill="#000"/>
<path d="M2338.2 1590.2 A8 8 0 0 0 2338.2 1606.2 Z" fill="#4a90e0"/>
<circle cx="2350.4" cy="1595.8" r="11" fill="#000"/>
<path d="M2349.4 1587.8 A8 8 0 0 0 2349.4 1603.8 Z" fill="#4a90e0"/>
<path d="M1503.8 1151 V1127.6 H2339 V1151" fill="none" stroke="#000" stroke-width="5.5"/>
<text class="ar" x="1963.6" y="1133.3" font-size="44" text-anchor="middle">***</text>
<path d="M1506.7 1202.7 V1181.6 H2266.5 V1202.7" fill="none" stroke="#000" stroke-width="3"/>
<text class="ar" x="1909.6" y="1189.3" font-size="44" text-anchor="middle">*</text>
<path d="M1502 1303 V1280.8 H1915 V1303" fill="none" stroke="#000" stroke-width="5"/>
<text class="ar" x="1723.7" y="1289.9" font-size="44" text-anchor="middle">*</text>
<path d="M1506.7 1387.8 V1364.7 H1830.8 V1387.8" fill="none" stroke="#000" stroke-width="5"/>
<text class="ar" x="1685.4" y="1371.8" font-size="44" text-anchor="middle">**</text>
<path d="M1502 1461.5 V1437 H1744.4 V1461.5" fill="none" stroke="#000" stroke-width="5"/>
<text class="ar" x="1634" y="1444" font-size="44" text-anchor="middle">**</text>
<text class="b" x="58" y="2093" font-size="55">(B)</text>
<text class="b" x="169" y="2102" font-size="53">i)</text>
<text class="b" transform="translate(218.8 2582.7) rotate(-90)" font-size="39.8" text-anchor="middle">Log2 Fold Change</text>
<text class="b" x="273.5" y="2121.7" font-size="35" text-anchor="end">14</text>
<text class="b" x="273.5" y="2216.2" font-size="35" text-anchor="end">12</text>
<text class="b" x="273.5" y="2310.7" font-size="35" text-anchor="end">10</text>
<text class="b" x="273.5" y="2405.2" font-size="35" text-anchor="end">8</text>
<text class="b" x="273.5" y="2499.7" font-size="35" text-anchor="end">6</text>
<text class="b" x="273.5" y="2594.2" font-size="35" text-anchor="end">4</text>
<text class="b" x="273.5" y="2688.7" font-size="35" text-anchor="end">2</text>
<text class="b" x="273.5" y="2783.2" font-size="35" text-anchor="end">0</text>
<text class="b" x="273.5" y="2877.7" font-size="35" text-anchor="end">-2</text>
<text class="b" x="273.5" y="2972.2" font-size="35" text-anchor="end">-4</text>
<text class="b" x="273.5" y="3066.7" font-size="35" text-anchor="end">-6</text>
<rect x="323.5" y="2153" width="20" height="18" fill="#000" stroke="#4472c4" stroke-width="2.5"/>
<text class="b" x="349.5" y="2173" font-size="35.6">RNA Seq (GC-R)</text>
<rect x="326" y="2216" width="16" height="15" fill="url(#pd)"/>
<text class="b" x="349.5" y="2233" font-size="35.6">RNA Seq (GC-NR)</text>
<rect x="715" y="2153" width="20" height="18" fill="#fff" stroke="#4472c4" stroke-width="2.5"/>
<rect x="717" y="2155" width="9" height="14" fill="#f00"/>
<text class="b" x="741.4" y="2173" font-size="35.6">qPCR Array (GC-R)</text>
<rect x="715" y="2213" width="20" height="18" fill="#fff" stroke="#2e75d0" stroke-width="4"/>
<rect x="723" y="2217" width="3" height="10" fill="#2e75d0"/>
<text class="b" x="741.4" y="2233" font-size="35.6">qPCR Array (GC-NR)</text>
<rect x="320.4" y="2771.5" width="26.5" height="196.6" fill="#000" stroke="#4472c4" stroke-width="2.8"/>
<rect x="348.7" y="2771.5" width="27.3" height="126.2" fill="url(#pc)" stroke="#4472c4" stroke-width="2.8"/>
<rect x="377.4" y="2771.5" width="27.9" height="121.4" fill="url(#pd)"/>
<rect x="406.7" y="2771.5" width="29.3" height="116.7" fill="url(#pg)" stroke="#3a78c8" stroke-width="2.8"/>
<rect x="465.1" y="2606.1" width="26.5" height="165.4" fill="#000" stroke="#4472c4" stroke-width="2.8"/>
<rect x="493.4" y="2695.9" width="27.3" height="75.6" fill="url(#pc)" stroke="#4472c4" stroke-width="2.8"/>
<rect x="522.1" y="2609.4" width="27.9" height="162.1" fill="url(#pd)"/>
<rect x="551.4" y="2731.3" width="29.3" height="40.2" fill="url(#pg)" stroke="#3a78c8" stroke-width="2.8"/>
<rect x="609.9" y="2614.1" width="26.5" height="157.4" fill="#000" stroke="#4472c4" stroke-width="2.8"/>
<rect x="638.2" y="2651.9" width="27.3" height="119.6" fill="url(#pc)" stroke="#4472c4" stroke-width="2.8"/>
<rect x="666.9" y="2486.6" width="27.9" height="284.9" fill="url(#pd)"/>
<rect x="696.2" y="2685.5" width="29.3" height="86" fill="url(#pg)" stroke="#3a78c8" stroke-width="2.8"/>
<rect x="754.6" y="2587.2" width="26.5" height="184.3" fill="#000" stroke="#4472c4" stroke-width="2.8"/>
<rect x="782.9" y="2560.3" width="27.3" height="211.2" fill="url(#pc)" stroke="#4472c4" stroke-width="2.8"/>
<rect x="811.6" y="2579.2" width="27.9" height="192.3" fill="url(#pd)"/>
<rect x="840.9" y="2651.9" width="29.3" height="119.6" fill="url(#pg)" stroke="#3a78c8" stroke-width="2.8"/>
<rect x="899.4" y="2771.5" width="26.5" height="96.9" fill="#000" stroke="#4472c4" stroke-width="2.8"/>
<rect x="927.7" y="2771.5" width="27.3" height="66.6" fill="url(#pc)" stroke="#4472c4" stroke-width="2.8"/>
<rect x="956.4" y="2771.5" width="27.9" height="95.4" fill="url(#pd)"/>
<rect x="985.7" y="2771.5" width="29.3" height="67.1" fill="url(#pg)" stroke="#3a78c8" stroke-width="2.8"/>
<rect x="1044.2" y="2604.2" width="26.5" height="167.3" fill="#000" stroke="#4472c4" stroke-width="2.8"/>
<rect x="1072.5" y="2677" width="27.3" height="94.5" fill="url(#pc)" stroke="#4472c4" stroke-width="2.8"/>
<rect x="1101.2" y="2582.5" width="27.9" height="189" fill="url(#pd)"/>
<rect x="1130.5" y="2625" width="29.3" height="146.5" fill="url(#pg)" stroke="#3a78c8" stroke-width="2.8"/>
<rect x="1188.9" y="2586.3" width="26.5" height="185.2" fill="#000" stroke="#4472c4" stroke-width="2.8"/>
<rect x="1217.2" y="2701.6" width="27.3" height="69.9" fill="url(#pc)" stroke="#4472c4" stroke-width="2.8"/>
<rect x="1245.9" y="2468.2" width="27.9" height="303.3" fill="url(#pd)"/>
<rect x="1275.2" y="2692.6" width="29.3" height="78.9" fill="url(#pg)" stroke="#3a78c8" stroke-width="2.8"/>
<rect x="1333.7" y="2550.4" width="26.5" height="221.1" fill="#000" stroke="#4472c4" stroke-width="2.8"/>
<rect x="1362" y="2527.2" width="27.3" height="244.3" fill="url(#pc)" stroke="#4472c4" stroke-width="2.8"/>
<rect x="1390.7" y="2445.9" width="27.9" height="325.6" fill="url(#pd)"/>
<rect x="1420" y="2574" width="29.3" height="197.5" fill="url(#pg)" stroke="#3a78c8" stroke-width="2.8"/>
<rect x="1478.4" y="2665.6" width="26.5" height="105.9" fill="#000" stroke="#4472c4" stroke-width="2.8"/>
<rect x="1506.7" y="2658.6" width="27.3" height="112.9" fill="url(#pc)" stroke="#4472c4" stroke-width="2.8"/>
<rect x="1535.4" y="2606.1" width="27.9" height="165.4" fill="url(#pd)"/>
<rect x="1564.7" y="2685.5" width="29.3" height="86" fill="url(#pg)" stroke="#3a78c8" stroke-width="2.8"/>
<rect x="1623.2" y="2472.9" width="26.5" height="298.6" fill="#000" stroke="#4472c4" stroke-width="2.8"/>
<rect x="1651.5" y="2554.1" width="27.3" height="217.4" fill="url(#pc)" stroke="#4472c4" stroke-width="2.8"/>
<rect x="1680.2" y="2499.8" width="27.9" height="271.7" fill="url(#pd)"/>
<rect x="1709.5" y="2542.8" width="29.3" height="228.7" fill="url(#pg)" stroke="#3a78c8" stroke-width="2.8"/>
<rect x="1767.9" y="2626.4" width="26.5" height="145.1" fill="#000" stroke="#4472c4" stroke-width="2.8"/>
<rect x="1796.2" y="2727.1" width="27.3" height="44.4" fill="url(#pc)" stroke="#4472c4" stroke-width="2.8"/>
<rect x="1824.9" y="2557.5" width="27.9" height="214" fill="url(#pd)"/>
<rect x="1854.2" y="2712.4" width="29.3" height="59.1" fill="url(#pg)" stroke="#3a78c8" stroke-width="2.8"/>
<rect x="1912.7" y="2673.7" width="26.5" height="97.8" fill="#000" stroke="#4472c4" stroke-width="2.8"/>
<rect x="1941" y="2622.2" width="27.3" height="149.3" fill="url(#pc)" stroke="#4472c4" stroke-width="2.8"/>
<rect x="1969.7" y="2639.2" width="27.9" height="132.3" fill="url(#pd)"/>
<rect x="1999" y="2684.5" width="29.3" height="87" fill="url(#pg)" stroke="#3a78c8" stroke-width="2.8"/>
<rect x="2057.4" y="2507.8" width="26.5" height="263.7" fill="#000" stroke="#4472c4" stroke-width="2.8"/>
<rect x="2085.7" y="2157.7" width="27.3" height="613.8" fill="url(#pc)" stroke="#4472c4" stroke-width="2.8"/>
<rect x="2114.4" y="2371.3" width="27.9" height="400.2" fill="url(#pd)"/>
<rect x="2143.7" y="2122.3" width="29.3" height="649.2" fill="url(#pg)" stroke="#3a78c8" stroke-width="2.8"/>
<line x1="304.4" y1="2110" x2="304.4" y2="3054" stroke="#000" stroke-width="5.8"/>
<line x1="301.2" y1="2771.5" x2="2286" y2="2771.5" stroke="#000" stroke-width="7"/>
<g clip-path="url(#cl)">
<text class="bi" transform="translate(399.8 3087.3) rotate(-45) skewX(-8)" font-size="47" text-anchor="end">ADRA2A</text>
<text class="bi" transform="translate(526.1 3088.9) rotate(-45) skewX(-8)" font-size="47" text-anchor="end">ANGPTL1</text>
<text class="bi" transform="translate(677.1 3103.8) rotate(-45) skewX(-8)" font-size="47" text-anchor="end">APOD</text>
<text class="bi" transform="translate(816.1 3094.6) rotate(-45) skewX(-8)" font-size="47" text-anchor="end">CPM</text>
<text class="bi" transform="translate(974.1 3101) rotate(-45) skewX(-8)" font-size="47" text-anchor="end">FST</text>
<text class="bi" transform="translate(1111.4 3096.7) rotate(-45) skewX(-8)" font-size="47" text-anchor="end">IGF2</text>
<text class="bi" transform="translate(1253.7 3095) rotate(-45) skewX(-8)" font-size="47" text-anchor="end">MYOC</text>
<text class="bi" transform="translate(1412.9 3096.4) rotate(-45) skewX(-8)" font-size="47" text-anchor="end">OCA2</text>
<text class="bi" transform="translate(1541.8 3097.1) rotate(-45) skewX(-8)" font-size="47" text-anchor="end">PDK4</text>
<text class="bi" transform="translate(1693.4 3095.2) rotate(-45) skewX(-8)" font-size="47" text-anchor="end">SAA1</text>
<text class="bi" transform="translate(1840.6 3094.2) rotate(-45) skewX(-8)" font-size="47" text-anchor="end">SCN3A</text>
<text class="bi" transform="translate(1982.3 3097.5) rotate(-45) skewX(-8)" font-size="47" text-anchor="end">TIMP4</text>
<text class="bi" transform="translate(2127 3092.6) rotate(-45) skewX(-8)" font-size="47" text-anchor="end">ZBTB16</text>
</g>
<text class="b" x="159" y="3311.5" font-size="55">ii)</text>
<text class="b" transform="translate(202.6 3713.2) rotate(-90)" font-size="40" text-anchor="middle" letter-spacing="1.1">Log2 Fold Change</text>
<text class="b" x="269" y="3330.6" font-size="35" text-anchor="end">8</text>
<text class="b" x="269" y="3429" font-size="35" text-anchor="end">6</text>
<text class="b" x="269" y="3527.4" font-size="35" text-anchor="end">4</text>
<text class="b" x="269" y="3625.8" font-size="35" text-anchor="end">2</text>
<text class="b" x="269" y="3724.2" font-size="35" text-anchor="end">0</text>
<text class="b" x="269" y="3822.6" font-size="35" text-anchor="end">-2</text>
<text class="b" x="269" y="3921" font-size="35" text-anchor="end">-4</text>
<text class="b" x="269" y="4019.4" font-size="35" text-anchor="end">-6</text>
<text class="b" x="269" y="4117.8" font-size="35" text-anchor="end">-8</text>
<rect x="315" y="3348" width="19" height="20" fill="#595959"/>
<text class="b" x="340" y="3369.5" font-size="35.6">RNA Seq</text>
<rect x="516.5" y="3350" width="19" height="17" fill="#fff" stroke="#000" stroke-width="2"/>
<rect x="522" y="3357.5" width="8" height="2" fill="#333"/>
<text class="b" x="544" y="3369.5" font-size="35.6">qPCR Array</text>
<rect x="317.6" y="3600.3" width="34.7" height="113.2" fill="#595959"/>
<rect x="351.8" y="3664.2" width="34.7" height="49.3" fill="url(#ph)" stroke="#000" stroke-width="2.8"/>
<rect x="420.7" y="3713.5" width="34.7" height="233.7" fill="#595959"/>
<rect x="454.9" y="3713.5" width="34.7" height="43.9" fill="url(#ph)" stroke="#000" stroke-width="2.8"/>
<rect x="524.3" y="3713.5" width="34.7" height="149.1" fill="#595959"/>
<rect x="558.5" y="3713.5" width="34.7" height="52.7" fill="url(#ph)" stroke="#000" stroke-width="2.8"/>
<rect x="630" y="3713.5" width="34.7" height="132.8" fill="#595959"/>
<rect x="664.2" y="3713.5" width="34.7" height="121.6" fill="url(#ph)" stroke="#000" stroke-width="2.8"/>
<rect x="733.5" y="3713.5" width="34.7" height="184.5" fill="#595959"/>
<rect x="767.7" y="3713.5" width="34.7" height="106.8" fill="url(#ph)" stroke="#000" stroke-width="2.8"/>
<rect x="839" y="3713.5" width="34.7" height="356.2" fill="#595959"/>
<rect x="873.2" y="3713.5" width="34.7" height="57.6" fill="url(#ph)" stroke="#000" stroke-width="2.8"/>
<rect x="942.7" y="3547.2" width="34.7" height="166.3" fill="#595959"/>
<rect x="976.9" y="3631.8" width="34.7" height="81.7" fill="url(#ph)" stroke="#000" stroke-width="2.8"/>
<rect x="1048" y="3613.6" width="34.7" height="99.9" fill="#595959"/>
<rect x="1082.2" y="3590.9" width="34.7" height="122.6" fill="url(#ph)" stroke="#000" stroke-width="2.8"/>
<rect x="1152.3" y="3713.5" width="34.7" height="263.7" fill="#595959"/>
<rect x="1186.5" y="3713.5" width="34.7" height="13.4" fill="url(#ph)" stroke="#000" stroke-width="2.8"/>
<rect x="1258" y="3607.7" width="34.7" height="105.8" fill="#595959"/>
<rect x="1292.2" y="3695.2" width="34.7" height="18.3" fill="url(#ph)" stroke="#000" stroke-width="2.8"/>
<rect x="1361" y="3594.4" width="34.7" height="119.1" fill="#595959"/>
<rect x="1395.2" y="3675.5" width="34.7" height="38" fill="url(#ph)" stroke="#000" stroke-width="2.8"/>
<rect x="1465" y="3713.5" width="34.7" height="146.6" fill="#595959"/>
<rect x="1499.2" y="3713.5" width="34.7" height="62.6" fill="url(#ph)" stroke="#000" stroke-width="2.8"/>
<rect x="1570.6" y="3586.6" width="34.7" height="126.9" fill="#595959"/>
<rect x="1674" y="3594.4" width="34.7" height="119.1" fill="#595959"/>
<rect x="1708.2" y="3705.1" width="34.7" height="8.4" fill="url(#ph)" stroke="#000" stroke-width="2.8"/>
<rect x="1780" y="3331.7" width="34.7" height="381.8" fill="#595959"/>
<rect x="1814.2" y="3537.8" width="34.7" height="175.7" fill="url(#ph)" stroke="#000" stroke-width="2.8"/>
<rect x="1883.6" y="3586.6" width="34.7" height="126.9" fill="#595959"/>
<rect x="1917.8" y="3685.4" width="34.7" height="28.1" fill="url(#ph)" stroke="#000" stroke-width="2.8"/>
<rect x="1989" y="3491.1" width="34.7" height="222.4" fill="#595959"/>
<rect x="2023.2" y="3608.1" width="34.7" height="105.4" fill="url(#ph)" stroke="#000" stroke-width="2.8"/>
<rect x="2092.8" y="3713.5" width="34.7" height="110.7" fill="#595959"/>
<rect x="2125.6" y="3713.5" width="37.5" height="3.9" fill="#000"/>
<rect x="2199" y="3713.5" width="34.7" height="130.4" fill="#595959"/>
<rect x="2233.2" y="3713.5" width="34.7" height="70.9" fill="url(#ph)" stroke="#000" stroke-width="2.8"/>
<line x1="298" y1="3321" x2="298" y2="4105.5" stroke="#000" stroke-width="6"/>
<line x1="295" y1="3713.5" x2="2286" y2="3713.5" stroke="#000" stroke-width="5.4"/>
<text class="bi" transform="translate(388.6 4126.8) rotate(-45) skewX(-8)" font-size="47" text-anchor="end">C1QTNF7</text>
<text class="bi" transform="translate(468 4126.1) rotate(-45) skewX(-8)" font-size="47" text-anchor="end">CD74</text>
<text class="bi" transform="translate(578.2 4123.1) rotate(-45) skewX(-8)" font-size="47" text-anchor="end">CHI3L1</text>
<text class="bi" transform="translate(663.4 4120.2) rotate(-45) skewX(-8)" font-size="47" text-anchor="end">COL15A1</text>
<text class="bi" transform="translate(770.6 4117.5) rotate(-45) skewX(-8)" font-size="47" text-anchor="end">IGF1</text>
<text class="bi" transform="translate(872.1 4126) rotate(-45) skewX(-8)" font-size="47" text-anchor="end">NPY</text>
<text class="bi" transform="translate(998.5 4118.9) rotate(-45) skewX(-8)" font-size="47" text-anchor="end">NTRK2</text>
<text class="bi" transform="translate(1111.6 4122.4) rotate(-45) skewX(-8)" font-size="47" text-anchor="end">PTK2B</text>
<text class="bi" transform="translate(1206.7 4127.3) rotate(-45) skewX(-8)" font-size="47" text-anchor="end">SPDEF</text>
<text class="bi" transform="translate(1316.2 4120.8) rotate(-45) skewX(-8)" font-size="47" text-anchor="end">CLSTN2</text>
<text class="bi" transform="translate(1421.8 4120.9) rotate(-45) skewX(-8)" font-size="47" text-anchor="end">DUSP5</text>
<text class="bi" transform="translate(1522.6 4119.4) rotate(-45) skewX(-8)" font-size="47" text-anchor="end">NMNAT2</text>
<text class="bi" transform="translate(1635.2 4127.7) rotate(-45) skewX(-8)" font-size="47" text-anchor="end">NRCAM</text>
<text class="bi" transform="translate(1739.4 4126.8) rotate(-45) skewX(-8)" font-size="47" text-anchor="end">PTHLH</text>
<text class="bi" transform="translate(1838.6 4125.7) rotate(-45) skewX(-8)" font-size="47" text-anchor="end">RGCC</text>
<text class="bi" transform="translate(1944.7 4127.6) rotate(-45) skewX(-8)" font-size="47" text-anchor="end">SIX2</text>
<text class="bi" transform="translate(2061.7 4120.8) rotate(-45) skewX(-8)" font-size="47" text-anchor="end">STEAP4</text>
<text class="bi" transform="translate(2161.9 4121.4) rotate(-45) skewX(-8)" font-size="47" text-anchor="end">UNC5B</text>
<text class="bi" transform="translate(2265.6 4127) rotate(-45) skewX(-8)" font-size="47" text-anchor="end">VCAN</text>
<line x1="324" y1="4281.7" x2="1206" y2="4281.7" stroke="#000" stroke-width="5"/>
<line x1="1284.5" y1="4281.7" x2="2275.4" y2="4281.7" stroke="#000" stroke-width="5"/>
<text class="b" x="704.7" y="4348.5" font-size="51">Group #4</text>
<text class="b" x="1676.4" y="4348.5" font-size="51">Group #5</text>
</svg>
</body>
</html>
